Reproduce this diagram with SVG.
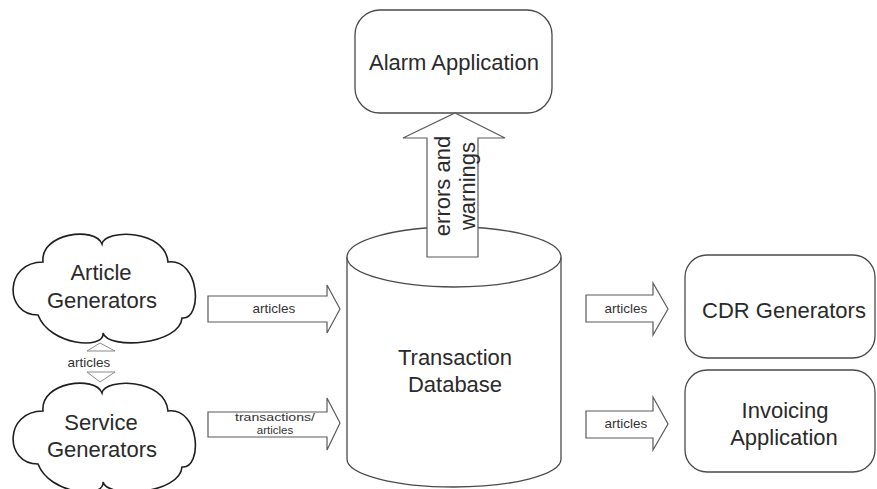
<svg xmlns="http://www.w3.org/2000/svg" width="877" height="489" viewBox="0 0 877 489">
<style>
  .bg{fill:#ffffff}
  .box{fill:#ffffff;stroke:#4a4a4a;stroke-width:1.3}
  .cloud{fill:#ffffff;stroke:#1e1e1e;stroke-width:1.6}
  .arrow{fill:#ffffff;stroke:#5a5a5a;stroke-width:1.2}
  .thin{fill:#ffffff;stroke:#8a8a8a;stroke-width:1}
  .lbl{font-family:"Liberation Sans",Arial,sans-serif;font-size:22px;fill:#2a2a2a;text-anchor:middle}
  .small{font-family:"Liberation Sans",Arial,sans-serif;font-size:13.5px;fill:#333333;text-anchor:middle}
  .tiny{font-family:"Liberation Sans",Arial,sans-serif;font-size:11.5px;fill:#333333;text-anchor:middle}
</style>
<defs>
  <path id="cloudShape" d="M102 244 C105 229,165 229,168 262 C200 258,203 320,182 318 C180 345,108 350,103 333 C105 350,50 346,38 315 C4 315,4 262,43 262 C40 233,95 226,102 244 Z"/>
</defs>
<rect class="bg" x="0" y="0" width="877" height="489"/>

<g id="transaction-database">
  <path class="box" d="M347 257 L347 459 A107 28 0 0 0 561 459 L561 257"/>
  <ellipse class="box" cx="454" cy="257" rx="107" ry="30"/>
  <text class="lbl" x="455" y="365">Transaction</text>
  <text class="lbl" x="455" y="392">Database</text>
</g>

<g id="alarm-application">
  <rect class="box" x="355" y="10" width="197" height="103" rx="25" ry="25"/>
  <text class="lbl" x="454" y="70">Alarm Application</text>
</g>

<g id="article-generators">
  <use href="#cloudShape" class="cloud"/>
  <text class="lbl" x="101" y="280">Article</text>
  <text class="lbl" x="102" y="308">Generators</text>
</g>

<g id="service-generators">
  <use href="#cloudShape" class="cloud" transform="translate(0,149)"/>
  <text class="lbl" x="101" y="430">Service</text>
  <text class="lbl" x="102" y="457">Generators</text>
</g>

<g id="cdr-generators">
  <rect class="box" x="685" y="255" width="190" height="103" rx="22" ry="22"/>
  <text class="lbl" x="784" y="318">CDR Generators</text>
</g>

<g id="invoicing-application">
  <rect class="box" x="685" y="370" width="190" height="102" rx="22" ry="22"/>
  <text class="lbl" x="785" y="418">Invoicing</text>
  <text class="lbl" x="784" y="445">Application</text>
</g>

<g id="connectors">
  <g id="errors-and-warnings">
    <polygon class="arrow" points="427,257 427,138 403,138 455,113 505,138 478,138 478,257"/>
    <text class="lbl" transform="translate(450,186) rotate(-90)">errors and</text>
    <text class="lbl" transform="translate(475,186) rotate(-90)">warnings</text>
  </g>
  <g id="articles-in">
    <polygon class="arrow" points="208,296 327,296 327,285 340,309 327,333 327,322 208,322"/>
    <text class="small" x="274" y="313">articles</text>
  </g>
  <g id="transactions-in">
    <polygon class="arrow" points="208,412 327,412 327,398 340,423 327,450 327,437 208,437"/>
    <text class="tiny" x="275" y="421" textLength="80" lengthAdjust="spacingAndGlyphs">transactions/</text>
    <text class="tiny" x="275" y="434">articles</text>
  </g>
  <g id="articles-cdr">
    <polygon class="arrow" points="586,295 653,295 653,283 668,309 653,335 653,322 586,322"/>
    <text class="small" x="626" y="313">articles</text>
  </g>
  <g id="articles-invoicing">
    <polygon class="arrow" points="586,411 653,411 653,397 668,424 653,450 653,438 586,438"/>
    <text class="small" x="626" y="428">articles</text>
  </g>
  <g id="articles-between-clouds">
    <path class="thin" d="M87 351 L100 343 L115 351 Z M87 372 L115 372 L100 382 Z"/>
    <text class="small" x="89" y="367">articles</text>
  </g>
</g>
</svg>
